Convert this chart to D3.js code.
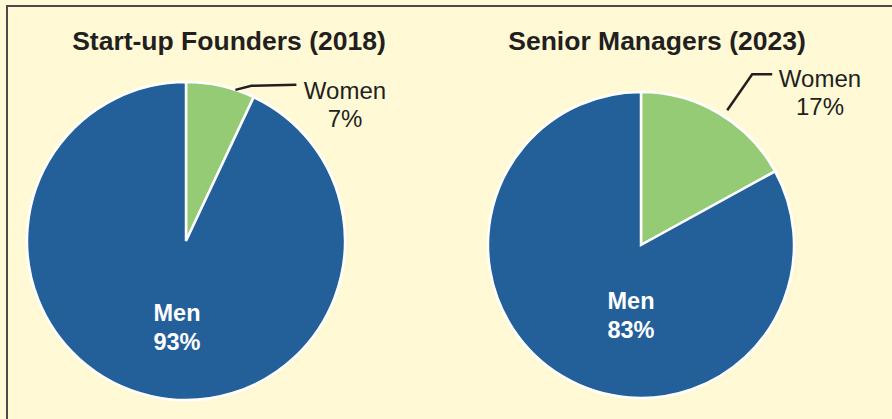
<!DOCTYPE html>
<html><head><meta charset="utf-8">
<script src="https://cdn.jsdelivr.net/npm/d3@7"></script>
<style>
html,body{margin:0;padding:0;background:#fffad5;}
svg{display:block;}
text{font-family:"Liberation Sans",Arial,sans-serif;}
</style></head>
<body>
<script>
const chartTitles = ["Start-up Founders (2018)", "Senior Managers (2023)"];
const categories = ["Women", "Men"];
const founders2018 = [7, 93];
const managers2023 = [17, 83];
const seriesValues = [founders2018, managers2023];
const colors = {Women: "#95cb75", Men: "#235f99"};

const W = 892, H = 419;
const svg = d3.select("body").append("svg").attr("width", W).attr("height", H);
svg.append("rect").attr("width", W).attr("height", H).attr("fill", "#fffad5");
svg.append("path").attr("d", `M7,${H} L7,6 L${W},6`).attr("fill","none")
  .attr("stroke","#4a4a4a").attr("stroke-width",2);

const layout = [
  {cx:186, cy:241, r:159, titleX:229, menDx:-9, menDy:80,
   leader:(p)=>[[p[0],p[1]],[p[0]+16,p[1]-4],[p[0]+61,p[1]-5]], labX:345, labY:99},
  {cx:641, cy:245, r:153, titleX:657, menDx:-10, menDy:64,
   leader:(p)=>[[p[0],p[1]],[p[0]+25,p[1]-36],[p[0]+45,p[1]-36]], labX:820, labY:87}
];
const leaderAngleOffset = [5.5*Math.PI/180, 2*Math.PI/180];
const leaderROffset = [0, 7];

const pie = d3.pie().sort(null).value(d=>d.v);

seriesValues.forEach((vals, i) => {
  const L = layout[i];
  const data = categories.map((c,j)=>({c, v:vals[j]}));
  const g = svg.append("g").attr("transform",`translate(${L.cx},${L.cy})`);
  const arcs = pie(data);
  const arc = d3.arc().innerRadius(0).outerRadius(L.r);
  g.selectAll("path").data(arcs).join("path")
    .attr("d", arc).attr("fill", d=>colors[d.data.c])
    .attr("stroke","#ffffff").attr("stroke-width",2.5).attr("stroke-linejoin","miter");

  svg.append("text").attr("x", L.titleX).attr("y", 50).attr("text-anchor","middle")
    .attr("font-size",26.5).attr("font-weight","bold").attr("fill","#231f20").text(chartTitles[i]);

  const w = arcs[0];
  const a = (w.startAngle+w.endAngle)/2 + leaderAngleOffset[i];
  const rr = L.r + leaderROffset[i];
  const p = [L.cx + rr*Math.sin(a), L.cy - rr*Math.cos(a)];
  svg.append("path").attr("d", d3.line()(L.leader(p))).attr("fill","none")
    .attr("stroke","#231f20").attr("stroke-width",2.5);
  const t = svg.append("text").attr("text-anchor","middle").attr("font-size",24).attr("fill","#231f20");
  t.append("tspan").attr("x",L.labX).attr("y",L.labY).text(w.data.c);
  t.append("tspan").attr("x",L.labX).attr("y",L.labY+28).text(w.data.v+"%");

  const m = arcs[1];
  const mt = svg.append("text").attr("text-anchor","middle").attr("font-size",23.5)
    .attr("font-weight","bold").attr("fill","#ffffff");
  mt.append("tspan").attr("x",L.cx+L.menDx).attr("y",L.cy+L.menDy).text(m.data.c);
  mt.append("tspan").attr("x",L.cx+L.menDx).attr("y",L.cy+L.menDy+29).text(m.data.v+"%");
});
</script>
</body></html>
